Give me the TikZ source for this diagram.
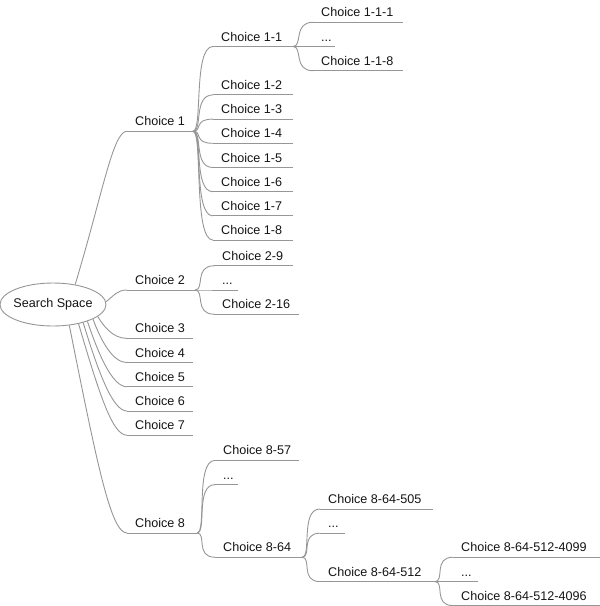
\documentclass[tikz,border=0pt]{standalone}
\usepackage{fontspec}
\setmainfont{Liberation Sans}
\usetikzlibrary{shapes.geometric}
\definecolor{linegray}{RGB}{150,150,150}
\definecolor{txt}{RGB}{20,20,20}
\tikzset{
  ln/.style={draw=linegray, line width=0.9pt},
  lbl/.style={anchor=base west, inner sep=0pt, text=txt, font=\fontsize{12.6pt}{15pt}\selectfont},
  root/.style={draw=linegray, line width=0.9pt, ellipse, minimum width=106pt, minimum height=43pt,
    inner xsep=-3pt, inner ysep=0pt, text=txt, font=\fontsize{12.6pt}{15pt}\selectfont}
}
% name, x-start, x-end, y, text
\newcommand\itm[5]{%
  \coordinate (#1s) at (#2,#4);
  \coordinate (#1e) at (#3,#4);
  \node[lbl] (#1) at ({#2+8},{#4-5.5}) {#5};
  \draw[ln] (#1s) -- (#1e);
}
% parent fork -> child start
\newcommand\brn[2]{\draw[ln] (#1e) .. controls +(10,0) and +(-20,0) .. (#2s);}
\begin{document}
\begin{tikzpicture}[x=1pt, y=-1pt]
\useasboundingbox (0,0) rectangle (600,606);
\node[root] (ss) at (53,304.5) {Search Space};
% level 1
\itm{c1}{127}{193}{131.2}{Choice 1}
\itm{c2}{127}{195}{290}{Choice 2}
\itm{c3}{127}{193}{338.4}{Choice 3}
\itm{c4}{127}{193}{362.6}{Choice 4}
\itm{c5}{127}{193}{386.8}{Choice 5}
\itm{c6}{127}{193}{411}{Choice 6}
\itm{c7}{127}{193}{435.2}{Choice 7}
\itm{c8}{127}{197}{533}{Choice 8}
% choice 1 children
\itm{ca}{213}{293}{46.5}{Choice 1-1}
\itm{cb}{213}{293}{94.9}{Choice 1-2}
\itm{cc}{213}{293}{119.1}{Choice 1-3}
\itm{cd}{213}{293}{143.3}{Choice 1-4}
\itm{ce}{213}{293}{167.5}{Choice 1-5}
\itm{cf}{213}{293}{191.7}{Choice 1-6}
\itm{cg}{213}{293}{215.9}{Choice 1-7}
\itm{ch}{213}{293}{240.1}{Choice 1-8}
% choice 1-1 children
\itm{caa}{313}{403}{22.3}{Choice 1-1-1}
\itm{cab}{313}{335}{46.5}{...}
\itm{cac}{313}{403}{70.7}{Choice 1-1-8}
% choice 2 children
\itm{cba}{214}{293}{265.8}{Choice 2-9}
\itm{cbb}{214}{238}{290}{...}
\itm{cbc}{214}{299}{314.2}{Choice 2-16}
% choice 8 children
\itm{cha}{215}{299}{460.4}{Choice 8-57}
\itm{chb}{215}{238}{484.6}{...}
\itm{chc}{215}{302}{557.2}{Choice 8-64}
% choice 8-64 children
\itm{chca}{320}{433}{509}{Choice 8-64-505}
\itm{chcb}{320}{345}{533.2}{...}
\itm{chcc}{320}{435}{581.6}{Choice 8-64-512}
% choice 8-64-512 children
\itm{chcca}{453}{600}{557.2}{Choice 8-64-512-4099}
\itm{chccb}{453}{478}{581.6}{...}
\itm{chccc}{453}{600}{605.6}{Choice 8-64-512-4096}
% root connectors
\draw[ln] (ss.42) .. controls +(28,-93) and +(-14,0) .. (c1s);
\draw[ln] (ss.3) .. controls +(8,-6) and +(-10,0) .. (c2s);
\draw[ln] (ss.-15) .. controls +(6,10) and +(-14,0) .. (c3s);
\draw[ln] (ss.-20.5) .. controls +(8,22) and +(-14,0) .. (c4s);
\draw[ln] (ss.-26) .. controls +(12,36) and +(-14,0) .. (c5s);
\draw[ln] (ss.-31) .. controls +(16,52) and +(-14,0) .. (c6s);
\draw[ln] (ss.-37) .. controls +(22,75) and +(-14,0) .. (c7s);
\draw[ln] (ss.-52) .. controls +(28,140) and +(-16,0) .. (c8s);
% branch connectors
\foreach \k in {ca,cb,cc,cd,ce,cf,cg,ch}{\brn{c1}{\k}}
\foreach \k in {caa,cab,cac}{\brn{ca}{\k}}
\foreach \k in {cba,cbb,cbc}{\brn{c2}{\k}}
\foreach \k in {cha,chb,chc}{\brn{c8}{\k}}
\foreach \k in {chca,chcb,chcc}{\brn{chc}{\k}}
\foreach \k in {chcca,chccb,chccc}{\brn{chcc}{\k}}
\end{tikzpicture}
\end{document}
